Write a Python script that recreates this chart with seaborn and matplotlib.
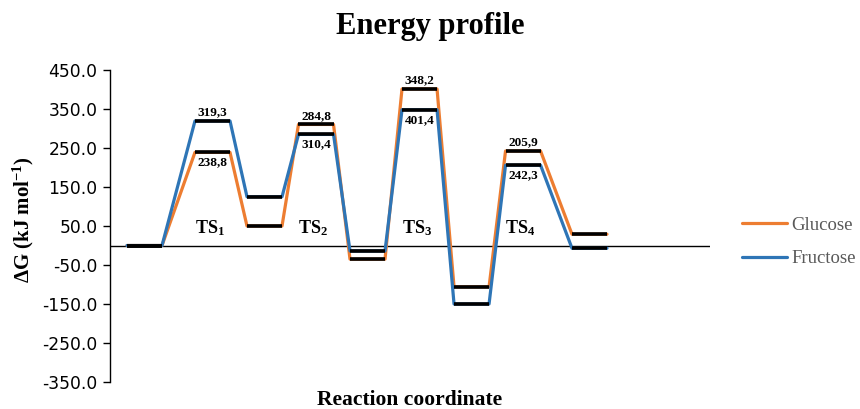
import numpy as np
import pandas as pd
import matplotlib
matplotlib.use("Agg")
import matplotlib.pyplot as plt
from matplotlib.lines import Line2D
import seaborn as sns

# =========================
# DATA
# =========================

levels = ["R", "TS1", "I1", "TS2", "I2", "TS3", "I3", "TS4", "P"]
glucose = [0.0, 238.8, 50.0, 310.4, -35.0, 401.4, -106.0, 242.3, 29.0]
fructose = [0.0, 319.3, 125.0, 284.8, -14.0, 348.2, -150.0, 205.9, -7.0]

ts_names = ["TS$_\\mathbf{1}$", "TS$_\\mathbf{2}$", "TS$_\\mathbf{3}$", "TS$_\\mathbf{4}$"]
labels_above = ["319,3", "284,8", "348,2", "205,9"]
labels_below = ["238,8", "310,4", "401,4", "242,3"]

# layout: start of each level on the reaction coordinate, and bar width
level_x = [0.0, 1.32, 2.33, 3.33, 4.33, 5.34, 6.35, 7.35, 8.64]
bar_w = 0.68

orange = "#ED7D31"
blue = "#2E75B6"

# =========================
# STYLE
# =========================

sns.set_style("white")
plt.rcParams["font.family"] = ["Liberation Serif", "DejaVu Serif"]
plt.rcParams["mathtext.fontset"] = "custom"
plt.rcParams["mathtext.rm"] = "Liberation Serif"
plt.rcParams["mathtext.bf"] = "Liberation Serif:bold"
plt.rcParams["mathtext.it"] = "Liberation Serif:italic"
plt.rcParams["text.color"] = "black"
plt.rcParams["axes.labelcolor"] = "black"
plt.rcParams["ytick.color"] = "black"

# =========================
# LONG TABLE FOR SEABORN
# =========================

rows = []
for name, vals in [("Glucose", glucose), ("Fructose", fructose)]:
    for i, v in enumerate(vals):
        rows.append({"sugar": name, "x": level_x[i], "G": v})
        rows.append({"sugar": name, "x": level_x[i] + bar_w, "G": v})
df = pd.DataFrame(rows)

# =========================
# PLOT
# =========================

fig = plt.figure(figsize=(8.6, 4.09), dpi=100)
ax = fig.add_axes([110 / 860, 1 - 382 / 409, 600 / 860, 312 / 409])

ax.axhline(0, color="black", lw=1, zorder=1)

sns.lineplot(
    data=df, x="x", y="G", hue="sugar",
    hue_order=["Glucose", "Fructose"],
    palette={"Glucose": orange, "Fructose": blue},
    sort=False, estimator=None, lw=2.3, legend=False, ax=ax, zorder=2
)

# black level bars
for vals in [glucose, fructose]:
    xs = np.array(level_x)
    ax.hlines(vals, xs, xs + bar_w, color="black", lw=2.6, zorder=3)

# energy labels
ts_idx = [1, 3, 5, 7]
for k, i in enumerate(ts_idx):
    cx = level_x[i] + bar_w / 2
    top = max(glucose[i], fructose[i])
    low = min(glucose[i], fructose[i])
    ax.annotate(labels_above[k], (cx, top), xytext=(0, 2), textcoords="offset points",
                ha="center", va="bottom", fontsize=9.5, fontweight="bold")
    ax.annotate(labels_below[k], (cx, low), xytext=(0, -3), textcoords="offset points",
                ha="center", va="top", fontsize=9.5, fontweight="bold")
    ax.text(cx - 0.05, 45, ts_names[k], ha="center", va="center",
            fontsize=13, fontweight="bold")

# =========================
# AXES
# =========================

ax.set_xlim(-0.33, 11.32)
ax.set_ylim(-350, 450)
ax.set_yticks(np.arange(-350, 451, 100))
ax.yaxis.set_major_formatter(matplotlib.ticker.FormatStrFormatter("%.1f"))
ax.set_xticks([])
for s in ["top", "right", "bottom"]:
    ax.spines[s].set_visible(False)
ax.spines["left"].set_color("black")
ax.spines["left"].set_linewidth(1)
ax.tick_params(axis="y", direction="out", length=5, width=1, color="black",
               left=True, labelsize=12.3, labelcolor="black", pad=4)
for lab in ax.get_yticklabels():
    lab.set_fontfamily("DejaVu Sans")

ax.set_ylabel("ΔG (kJ mol$^{\\mathbf{-1}}$)", fontsize=15, fontweight="bold")
ax.yaxis.set_label_coords(-0.123, 0.52)
ax.set_xlabel("Reaction coordinate", fontsize=15.5, fontweight="bold")
ax.xaxis.set_label_coords(0.5, -0.025)

fig.text(0.5, 1 - 34 / 409, "Energy profile", ha="center", va="baseline",
         fontsize=22, fontweight="bold")

handles = [Line2D([], [], color=orange, lw=2.3), Line2D([], [], color=blue, lw=2.3)]
ax.legend(handles, ["Glucose", "Fructose"], loc="center left",
          bbox_to_anchor=(742 / 860, 1 - 242 / 409), bbox_transform=fig.transFigure,
          frameon=False, fontsize=13.5, labelcolor="#595959",
          handlelength=2.4, handletextpad=0.25, labelspacing=0.85,
          borderaxespad=0, borderpad=0)

fig.savefig("out.png", dpi=100)
